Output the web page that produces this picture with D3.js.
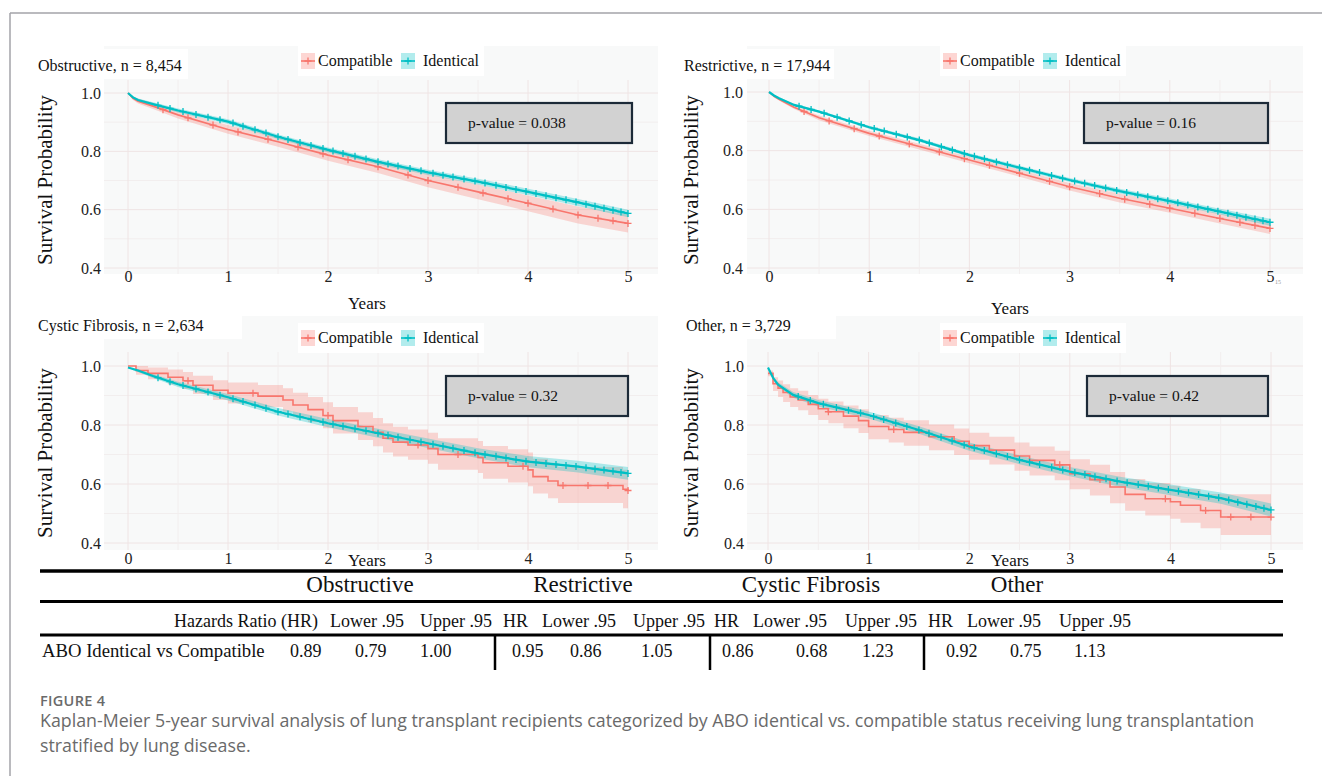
<!DOCTYPE html>
<meta charset="utf-8">
<style>
  body { margin: 0; background: #fff; }
  svg text { font-family: "Liberation Serif", "Times New Roman", serif; fill: #111; }
  .tick text { font-size: 16px; fill: #222; }
  .caption { font-family: "Open Sans", "Noto Sans", sans-serif !important; fill: #6a6a6a !important; }
</style>
<body>
<svg id="fig" width="1322" height="776"></svg>
</body>
<script src="https://cdnjs.cloudflare.com/ajax/libs/d3/7.8.5/d3.min.js"></script>
<script>

// ---- data ----
var grid = [0, 0.05, 0.1, 0.25, 0.5, 1, 1.5, 2, 2.5, 3, 3.5, 4, 4.5, 5];

var obsIdent   = [1.0, 0.985, 0.976, 0.962, 0.94, 0.902, 0.85, 0.805, 0.764, 0.728, 0.696, 0.661, 0.625, 0.587];
var obsIdentLo = [1.0, 0.981, 0.971, 0.956, 0.933, 0.894, 0.842, 0.797, 0.755, 0.719, 0.686, 0.650, 0.613, 0.574];
var obsIdentHi = [1.0, 0.989, 0.981, 0.968, 0.947, 0.910, 0.858, 0.813, 0.773, 0.737, 0.706, 0.672, 0.637, 0.600];
var obsComp    = [1.0, 0.982, 0.972, 0.955, 0.925, 0.875, 0.833, 0.787, 0.747, 0.70, 0.661, 0.622, 0.582, 0.553];
var obsCompLo  = [1.0, 0.976, 0.964, 0.945, 0.913, 0.860, 0.816, 0.768, 0.726, 0.677, 0.636, 0.595, 0.553, 0.522];
var obsCompHi  = [1.0, 0.988, 0.980, 0.965, 0.937, 0.890, 0.850, 0.806, 0.768, 0.723, 0.686, 0.649, 0.611, 0.584];

var resIdent   = [1.0, 0.988, 0.979, 0.956, 0.933, 0.88, 0.836, 0.785, 0.742, 0.70, 0.662, 0.628, 0.592, 0.556];
var resIdentLo = [1.0, 0.986, 0.976, 0.952, 0.929, 0.875, 0.830, 0.779, 0.735, 0.693, 0.654, 0.619, 0.582, 0.544];
var resIdentHi = [1.0, 0.990, 0.982, 0.960, 0.937, 0.885, 0.842, 0.791, 0.749, 0.707, 0.670, 0.637, 0.602, 0.568];
var resComp    = [1.0, 0.985, 0.975, 0.948, 0.912, 0.859, 0.814, 0.768, 0.723, 0.677, 0.638, 0.604, 0.569, 0.535];
var resCompLo  = [1.0, 0.982, 0.971, 0.942, 0.904, 0.850, 0.804, 0.757, 0.711, 0.664, 0.623, 0.588, 0.552, 0.516];
var resCompHi  = [1.0, 0.988, 0.979, 0.954, 0.920, 0.868, 0.824, 0.779, 0.735, 0.690, 0.653, 0.620, 0.586, 0.554];

var cfIdent    = [0.995, 0.99, 0.985, 0.966, 0.938, 0.894, 0.845, 0.806, 0.772, 0.738, 0.704, 0.676, 0.659, 0.636];
var cfIdentLo  = [0.995, 0.986, 0.980, 0.959, 0.929, 0.883, 0.832, 0.792, 0.757, 0.722, 0.687, 0.657, 0.639, 0.614];
var cfIdentHi  = [0.995, 0.994, 0.990, 0.973, 0.947, 0.905, 0.858, 0.820, 0.787, 0.754, 0.721, 0.695, 0.679, 0.658];
var cfCompT    = [0, 0.08, 0.2, 0.4, 0.55, 0.65, 0.85, 1.0, 1.3, 1.55, 1.65, 1.8, 1.95, 2.05, 2.3, 2.45, 2.55, 2.65, 2.8, 3.0, 3.1, 3.5, 3.55, 3.8, 4.0, 4.05, 4.2, 4.3, 4.95, 5.0];
var cfComp     = [1.0, 0.985, 0.975, 0.962, 0.95, 0.935, 0.918, 0.908, 0.898, 0.885, 0.868, 0.852, 0.832, 0.815, 0.795, 0.775, 0.755, 0.742, 0.732, 0.72, 0.70, 0.69, 0.672, 0.66, 0.648, 0.625, 0.61, 0.595, 0.582, 0.578];
var cfCompLo   = [1.0, 0.97, 0.955, 0.937, 0.922, 0.905, 0.885, 0.873, 0.861, 0.846, 0.828, 0.81, 0.789, 0.771, 0.749, 0.728, 0.707, 0.693, 0.682, 0.669, 0.648, 0.637, 0.618, 0.605, 0.592, 0.568, 0.552, 0.536, 0.518, 0.512];
var cfCompHi   = [1.0, 1.0, 0.995, 0.988, 0.98, 0.967, 0.952, 0.944, 0.936, 0.925, 0.909, 0.895, 0.877, 0.861, 0.843, 0.824, 0.806, 0.794, 0.785, 0.774, 0.755, 0.746, 0.729, 0.718, 0.707, 0.686, 0.672, 0.658, 0.648, 0.645];

var othIdent   = [0.995, 0.96, 0.937, 0.902, 0.874, 0.834, 0.783, 0.727, 0.682, 0.642, 0.608, 0.58, 0.552, 0.512];
var othIdentLo = [0.995, 0.953, 0.929, 0.892, 0.863, 0.822, 0.770, 0.713, 0.667, 0.626, 0.591, 0.562, 0.533, 0.490];
var othIdentHi = [0.995, 0.967, 0.945, 0.912, 0.885, 0.846, 0.796, 0.741, 0.697, 0.658, 0.625, 0.598, 0.571, 0.534];
var othCompT   = [0, 0.05, 0.1, 0.15, 0.22, 0.3, 0.4, 0.5, 0.6, 0.75, 0.9, 1.0, 1.2, 1.35, 1.6, 1.85, 2.0, 2.2, 2.45, 2.6, 2.85, 3.0, 3.2, 3.4, 3.55, 3.75, 4.0, 4.1, 4.3, 4.5, 5.0];
var othComp    = [0.975, 0.94, 0.925, 0.91, 0.895, 0.885, 0.87, 0.855, 0.845, 0.83, 0.815, 0.795, 0.785, 0.775, 0.76, 0.745, 0.73, 0.715, 0.695, 0.68, 0.665, 0.635, 0.615, 0.59, 0.565, 0.55, 0.54, 0.528, 0.51, 0.488, 0.488];
var othCompLo  = [0.965, 0.915, 0.895, 0.878, 0.861, 0.85, 0.834, 0.817, 0.806, 0.789, 0.773, 0.752, 0.741, 0.73, 0.714, 0.698, 0.682, 0.666, 0.645, 0.629, 0.613, 0.582, 0.561, 0.535, 0.509, 0.493, 0.482, 0.469, 0.45, 0.427, 0.418];
var othCompHi  = [0.985, 0.962, 0.951, 0.938, 0.925, 0.916, 0.902, 0.889, 0.88, 0.866, 0.853, 0.834, 0.825, 0.816, 0.802, 0.788, 0.774, 0.76, 0.741, 0.727, 0.713, 0.684, 0.665, 0.641, 0.617, 0.603, 0.594, 0.583, 0.566, 0.565, 0.568];

// censoring times (+ marks)
var censorDense = [0.3, 0.42, 0.55, 0.68, 0.8, 0.92, 1.05, 1.15, 1.27, 1.38, 1.5, 1.6, 1.72, 1.83, 1.95, 2.05, 2.15, 2.27, 2.38, 2.5, 2.6, 2.7, 2.82, 2.93, 3.05, 3.15, 3.25, 3.36, 3.47, 3.57, 3.68, 3.78, 3.88, 3.98, 4.08, 4.18, 4.28, 4.38, 4.48, 4.58, 4.67, 4.76, 4.85, 4.93, 5.0];
var censorMid = [0.35, 0.6, 0.85, 1.1, 1.4, 1.7, 1.95, 2.2, 2.5, 2.8, 3.0, 3.3, 3.55, 3.8, 4.0, 4.25, 4.5, 4.7, 4.85, 5.0];
var censorSparse = [0.6, 1.25, 2.0, 2.9, 3.3, 3.95, 4.35, 4.6, 4.8, 5.0];

var panelTitles = ["Obstructive, n = 8,454", "Restrictive, n = 17,944", "Cystic Fibrosis, n = 2,634", "Other, n = 3,729"];
var pValues = ["0.038", "0.16", "0.32", "0.42"];
var groups = ["Compatible", "Identical"];
var yTicks = [0.4, 0.6, 0.8, 1.0];
var xTicks = [0, 1, 2, 3, 4, 5];

var tableGroups = ["Obstructive", "Restrictive", "Cystic Fibrosis", "Other"];
var tableHeads = ["Hazards Ratio (HR)", "Lower .95", "Upper .95", "HR", "Lower .95", "Upper .95", "HR", "Lower .95", "Upper .95", "HR", "Lower .95", "Upper .95"];
var rowLabel = "ABO Identical vs Compatible";
var hrValues = ["0.89", "0.79", "1.00", "0.95", "0.86", "1.05", "0.86", "0.68", "1.23", "0.92", "0.75", "1.13"];

var captionHead = "FIGURE 4";
var captionLines = [
  "Kaplan-Meier 5-year survival analysis of lung transplant recipients categorized by ABO identical vs. compatible status receiving lung transplantation",
  "stratified by lung disease."
];

var colors = { Compatible: "#F8766D", Identical: "#00BFC4" };

// per-panel curve sets
var panelCurves = [
  [ { g: "Compatible", t: grid, s: obsComp, lo: obsCompLo, hi: obsCompHi, step: false, cens: censorMid },
    { g: "Identical",  t: grid, s: obsIdent, lo: obsIdentLo, hi: obsIdentHi, step: false, cens: censorDense } ],
  [ { g: "Compatible", t: grid, s: resComp, lo: resCompLo, hi: resCompHi, step: false, cens: censorMid },
    { g: "Identical",  t: grid, s: resIdent, lo: resIdentLo, hi: resIdentHi, step: false, cens: censorDense } ],
  [ { g: "Compatible", t: cfCompT, s: cfComp, lo: cfCompLo, hi: cfCompHi, step: true, cens: censorSparse },
    { g: "Identical",  t: grid, s: cfIdent, lo: cfIdentLo, hi: cfIdentHi, step: false, cens: censorDense } ],
  [ { g: "Compatible", t: othCompT, s: othComp, lo: othCompLo, hi: othCompHi, step: true, cens: censorSparse },
    { g: "Identical",  t: grid, s: othIdent, lo: othIdentLo, hi: othIdentHi, step: false, cens: censorDense } ]
];

// ---- layout (pixels) ----
var layout = [
  { x0: 128, x5: 628, y10: 93,  y04: 268, bg: [104, 46, 658, 274],  plotTop: 80,  title: [38, 71],  leg: [308, 61],  box: [446, 103, 632, 143], yl: [52, 180],  tickR: 101, tickY: 283, years: [367, 309] },
  { x0: 769, x5: 1270, y10: 92, y04: 268, bg: [747, 46, 1303, 274], plotTop: 80,  title: [684, 71], leg: [950, 61],  box: [1084, 103, 1268, 143], yl: [698, 180], tickR: 743, tickY: 283, years: [1010, 314] },
  { x0: 128, x5: 628, y10: 366, y04: 543, bg: [104, 316, 658, 550], plotTop: 352, title: [38, 331], leg: [308, 338], box: [446, 376, 628, 416], yl: [52, 453],  tickR: 101, tickY: 565, years: [367, 566] },
  { x0: 768, x5: 1271, y10: 366, y04: 543, bg: [747, 316, 1303, 550], plotTop: 352, title: [686, 331], leg: [950, 338], box: [1087, 376, 1268, 416], yl: [698, 453], tickR: 744, tickY: 565, years: [1010, 566] }
];

var svg = d3.select("#fig");
svg.append("rect").attr("width", 1322).attr("height", 776).attr("fill", "#fff");

// page frame
svg.append("line").attr("x1", 10).attr("x2", 1322).attr("y1", 13).attr("y2", 13).attr("stroke", "#a3a3a8").attr("stroke-width", 1.5);
svg.append("line").attr("x1", 10).attr("x2", 10).attr("y1", 13).attr("y2", 776).attr("stroke", "#a3a3a8").attr("stroke-width", 1.5);

function valueAt(c, time) {
  if (c.step) {
    var i = d3.bisectRight(c.t, time) - 1;
    return c.s[Math.max(0, i)];
  }
  var j = d3.bisectLeft(c.t, time);
  if (j <= 0) return c.s[0];
  if (j >= c.t.length) return c.s[c.s.length - 1];
  var f = (time - c.t[j - 1]) / (c.t[j] - c.t[j - 1]);
  return c.s[j - 1] + f * (c.s[j] - c.s[j - 1]);
}

layout.forEach(function(L, p) {
  var g = svg.append("g");
  var x = d3.scaleLinear().domain([0, 5]).range([L.x0, L.x5]);
  var y = d3.scaleLinear().domain([0.4, 1.0]).range([L.y04, L.y10]);

  // panel background and grid
  g.append("rect").attr("x", L.bg[0]).attr("y", L.bg[1]).attr("width", L.bg[2] - L.bg[0]).attr("height", L.bg[3] - L.bg[1]).attr("fill", "#f8f9f9");
  var minorY = [0.5, 0.7, 0.9], minorX = [0.5, 1.5, 2.5, 3.5, 4.5];
  g.selectAll(".gy").data(yTicks.concat(minorY)).enter().append("line")
    .attr("x1", L.bg[0]).attr("x2", L.bg[2]).attr("y1", function(d) { return y(d); }).attr("y2", function(d) { return y(d); })
    .attr("stroke", function(d) { return yTicks.indexOf(d) >= 0 ? "#efe4e4" : "#f2eeee"; }).attr("stroke-width", 1);
  g.selectAll(".gx").data(xTicks.concat(minorX)).enter().append("line")
    .attr("y1", L.plotTop).attr("y2", L.bg[3]).attr("x1", function(d) { return x(d); }).attr("x2", function(d) { return x(d); })
    .attr("stroke", function(d) { return xTicks.indexOf(d) >= 0 ? "#efe4e4" : "#f2eeee"; }).attr("stroke-width", 1);

  // white boxes behind title and legend
  g.append("rect").attr("x", L.title[0] - 8).attr("y", L.title[1] - 22).attr("width", p == 2 ? 212 : 158).attr("height", 30).attr("fill", "#fff");
  g.append("rect").attr("x", L.leg[0] - 10).attr("y", L.leg[1] - 15).attr("width", 186).attr("height", 30).attr("fill", "#fff");

  // confidence bands
  panelCurves[p].forEach(function(c) {
    var pts = c.t.map(function(t, i) { return { t: t, lo: c.lo[i], hi: c.hi[i] }; });
    var area = d3.area().x(function(d) { return x(d.t); }).y0(function(d) { return y(d.lo); }).y1(function(d) { return y(d.hi); })
      .curve(c.step ? d3.curveStepAfter : d3.curveLinear);
    g.append("path").datum(pts).attr("d", area).attr("fill", colors[c.g]).attr("fill-opacity", c.g == "Compatible" ? 0.28 : 0.3);
  });

  // survival curves and censor marks
  panelCurves[p].forEach(function(c) {
    var pts = c.t.map(function(t, i) { return { t: t, s: c.s[i] }; });
    var line = d3.line().x(function(d) { return x(d.t); }).y(function(d) { return y(d.s); })
      .curve(c.step ? d3.curveStepAfter : d3.curveLinear);
    g.append("path").datum(pts).attr("d", line).attr("fill", "none").attr("stroke", colors[c.g])
      .attr("stroke-width", c.g == "Identical" ? 2.2 : 1.6);
    g.selectAll(null).data(c.cens).enter().append("path")
      .attr("transform", function(t) { return "translate(" + x(t) + "," + y(valueAt(c, t)) + ")"; })
      .attr("d", "M-3.5,0H3.5M0,-3.5V3.5").attr("stroke", colors[c.g]).attr("stroke-width", 1.3);
  });

  // axes (tick labels only)
  g.append("g").attr("transform", "translate(" + L.tickR + ",0)")
    .call(d3.axisLeft(y).tickValues(yTicks).tickSize(0).tickPadding(0).tickFormat(d3.format(".1f")))
    .call(function(a) { a.select(".domain").remove(); });
  g.append("g").attr("transform", "translate(0," + (L.tickY - 12) + ")")
    .call(d3.axisBottom(x).tickValues(xTicks).tickSize(0).tickPadding(0).tickFormat(d3.format("d")))
    .call(function(a) { a.select(".domain").remove(); a.selectAll("text").attr("dy", "0.71em"); });

  // labels
  g.append("text").attr("x", L.title[0]).attr("y", L.title[1]).attr("font-size", 16).text(panelTitles[p]);
  g.append("text").attr("transform", "translate(" + L.yl[0] + "," + L.yl[1] + ") rotate(-90)")
    .attr("text-anchor", "middle").attr("font-size", 21).text("Survival Probability");
  g.append("text").attr("x", L.years[0]).attr("y", L.years[1]).attr("text-anchor", "middle").attr("font-size", 17).text("Years");
  if (p == 1) {
    g.append("text").attr("x", x(5) + 5).attr("y", L.tickY + 1).attr("font-size", 6).style("fill", "#999").text("15");
  }

  // legend
  groups.forEach(function(name, i) {
    var kx = L.leg[0] + i * 100, ky = L.leg[1];
    g.append("rect").attr("x", kx - 7).attr("y", ky - 8).attr("width", 14).attr("height", 16).attr("fill", colors[name]).attr("fill-opacity", 0.3);
    g.append("path").attr("d", "M" + (kx - 7) + "," + ky + "H" + (kx + 7)).attr("stroke", colors[name]).attr("stroke-width", 1.6);
    g.append("path").attr("d", "M" + (kx - 3.5) + "," + ky + "H" + (kx + 3.5) + "M" + kx + "," + (ky - 3.5) + "V" + (ky + 3.5))
      .attr("stroke", colors[name]).attr("stroke-width", 1.3);
    g.append("text").attr("x", kx + (i == 0 ? 10 : 15)).attr("y", ky + 5).attr("font-size", 16).text(name);
  });

  // p-value box
  g.append("rect").attr("x", L.box[0]).attr("y", L.box[1]).attr("width", L.box[2] - L.box[0]).attr("height", L.box[3] - L.box[1])
    .attr("fill", "#d2d2d2").attr("stroke", "#1c2a38").attr("stroke-width", 2.2);
  g.append("text").attr("x", L.box[0] + 22).attr("y", (L.box[1] + L.box[3]) / 2 + 5).attr("font-size", 15.5).text("p-value = " + pValues[p]);
});

// ---- hazard ratio table ----
var t = svg.append("g");
var rule = function(y, w) {
  t.append("line").attr("x1", 40).attr("x2", 1283).attr("y1", y).attr("y2", y).attr("stroke", "#000").attr("stroke-width", w);
};
rule(571, 3.5);
rule(601.5, 3);
rule(635, 3);

var groupX = [360, 583, 811, 1017];
t.selectAll(".tg").data(tableGroups).enter().append("text")
  .attr("x", function(d, i) { return groupX[i]; }).attr("y", 592).attr("text-anchor", "middle").attr("font-size", 23)
  .text(function(d) { return d; });

var headX = [174, 330, 420, 503, 542, 633, 714, 753, 845, 928, 967, 1059];
t.selectAll(".th").data(tableHeads).enter().append("text")
  .attr("x", function(d, i) { return headX[i]; }).attr("y", 627).attr("font-size", 18)
  .text(function(d) { return d; });

t.append("text").attr("x", 42).attr("y", 657).attr("font-size", 18.7).text(rowLabel);
var valX = [290, 355, 420, 512, 570, 641, 722, 796, 862, 946, 1010, 1074];
t.selectAll(".tv").data(hrValues).enter().append("text")
  .attr("x", function(d, i) { return valX[i]; }).attr("y", 657).attr("font-size", 18)
  .text(function(d) { return d; });

[495, 710, 924].forEach(function(vx) {
  t.append("line").attr("x1", vx).attr("x2", vx).attr("y1", 636).attr("y2", 670).attr("stroke", "#000").attr("stroke-width", 2.5);
});

// ---- caption ----
svg.append("text").attr("class", "caption").attr("x", 40).attr("y", 706).attr("font-size", 14.5).attr("font-weight", 600)
  .style("letter-spacing", "0.3px").text(captionHead);
svg.selectAll(".cap").data(captionLines).enter().append("text").attr("class", "caption")
  .attr("x", 40).attr("y", function(d, i) { return 727 + i * 25; }).attr("font-size", 17.8)
  .text(function(d) { return d; });

</script>
